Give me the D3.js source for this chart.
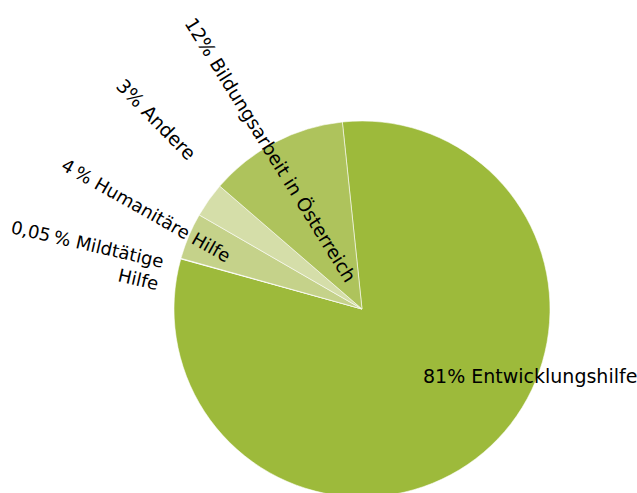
<!DOCTYPE html>
<html>
<head>
<meta charset="utf-8">
<script src="https://cdn.jsdelivr.net/npm/d3@7"></script>
<style>
  body { margin: 0; background: #fff; }
  svg text { font-family: "DejaVu Sans", Verdana, sans-serif; fill: #000; }
</style>
</head>
<body>
<svg id="pie"></svg>
<script>
// shares in percent, in drawing order (clockwise from the top)
var categories = ['Entwicklungshilfe', 'Mildtätige Hilfe', 'Humanitäre Hilfe', 'Andere', 'Bildungsarbeit in Österreich'],
    values     = [81, 0.05, 4, 3, 12],
    labels     = [['81% Entwicklungshilfe'],
                  ['0,05\u2009% Mildtätige', 'Hilfe'],
                  ['4\u2009% Humanitäre Hilfe'],
                  ['3% Andere'],
                  ['12% Bildungsarbeit in Österreich']];

var colors = ['#9dba3b', '#f2f5e6', '#c5d28a', '#d5dea9', '#aec35c'];

// where each label sits, relative to the pie centre
var labelLayout = [
  {dx: 61,   dy: 74,   rotate: 0,    anchor: 'start', size: 19},
  {dx: -200, dy: -41,  rotate: 13,   anchor: 'end',   size: 18},
  {dx: -302, dy: -140, rotate: 29.5, anchor: 'start', size: 18},
  {dx: -247, dy: -222, rotate: 45.7, anchor: 'start', size: 19},
  {dx: -178, dy: -286, rotate: 58.2, anchor: 'start', size: 18.6}
];

var width = 637, height = 493,
    cx = 362, cy = 309,
    radius = 188,
    start = -6 * Math.PI / 180;

var svg = d3.select('#pie')
    .attr('width', width)
    .attr('height', height);

var g = svg.append('g')
    .attr('transform', 'translate(' + cx + ',' + cy + ')');

var pie = d3.pie()
    .sort(null)
    .startAngle(start)
    .endAngle(start + 2 * Math.PI);

var arc = d3.arc()
    .innerRadius(0)
    .outerRadius(radius);

var slices = pie(values);

g.selectAll('path')
    .data(slices)
  .enter().append('path')
    .attr('d', arc)
    .attr('fill', function(d, i) { return colors[i]; })
    .attr('stroke', '#fff')
    .attr('stroke-width', 0.8)
    .attr('stroke-opacity', 0.7);

var txt = g.selectAll('text.label')
    .data(labels)
  .enter().append('text')
    .attr('class', 'label')
    .attr('font-size', function(d, i) { return labelLayout[i].size + 'px'; })
    .attr('text-anchor', function(d, i) { return labelLayout[i].anchor; })
    .attr('transform', function(d, i) {
      var l = labelLayout[i];
      return 'translate(' + l.dx + ',' + l.dy + ') rotate(' + l.rotate + ')';
    });

txt.selectAll('tspan')
    .data(function(d) { return d; })
  .enter().append('tspan')
    .attr('x', 0)
    .attr('dy', function(d, i) { return i ? '1.27em' : 0; })
    .text(function(d) { return d; });
</script>
</body>
</html>
